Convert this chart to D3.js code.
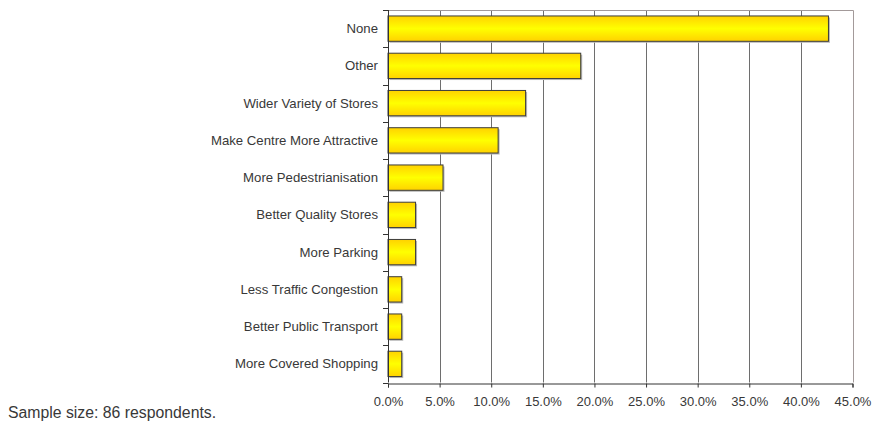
<!DOCTYPE html>
<html>
<head>
<meta charset="utf-8">
<script src="https://cdn.jsdelivr.net/npm/d3@7"></script>
<style>
  html, body { margin: 0; padding: 0; background: #fff; }
  svg { display: block; }
  text { font-family: "Liberation Sans", Arial, Helvetica, sans-serif; fill: #383838; }
</style>
</head>
<body>
<svg id="chart" width="872" height="423"></svg>
<script>
// Improvements wanted in the town centre (share of responses)
const categories = [
  "None",
  "Other",
  "Wider Variety of Stores",
  "Make Centre More Attractive",
  "More Pedestrianisation",
  "Better Quality Stores",
  "More Parking",
  "Less Traffic Congestion",
  "Better Public Transport",
  "More Covered Shopping"
];
const shares = [42.67, 18.67, 13.33, 10.67, 5.33, 2.67, 2.67, 1.33, 1.33, 1.33];
const xTicks = [0, 5, 10, 15, 20, 25, 30, 35, 40, 45];
const note = "Sample size: 86 respondents.";

const svg = d3.select("#chart");
const plot = { left: 388, right: 852.5, top: 10, bottom: 382.5 };

const x = d3.scaleLinear().domain([0, 45]).range([plot.left, plot.right]);
const y = d3.scaleBand()
  .domain(categories)
  .range([plot.top, plot.bottom])
  .paddingInner(0.32)
  .paddingOuter(0.16);

// Bar fill: gold at the edges, bright yellow in the middle
const defs = svg.append("defs");
const grad = defs.append("linearGradient")
  .attr("id", "barFill").attr("x1", 0).attr("y1", 0).attr("x2", 0).attr("y2", 1);
grad.append("stop").attr("offset", "0%").attr("stop-color", "#ffd200");
grad.append("stop").attr("offset", "50%").attr("stop-color", "#ffff00");
grad.append("stop").attr("offset", "100%").attr("stop-color", "#ffd200");

// Vertical gridlines
svg.append("g")
  .selectAll("line")
  .data(xTicks.slice(1, -1))
  .join("line")
  .attr("x1", d => Math.round(x(d)) + 0.5)
  .attr("x2", d => Math.round(x(d)) + 0.5)
  .attr("y1", plot.top)
  .attr("y2", plot.bottom)
  .attr("stroke", "#6e6e6e")
  .attr("stroke-width", 1);

// Plot frame (top and right)
svg.append("path")
  .attr("d", `M${plot.left},${plot.top + 0.5}H${Math.round(plot.right) + 0.5}V${plot.bottom}`)
  .attr("fill", "none")
  .attr("stroke", "#a39a9a")
  .attr("stroke-width", 1);

// Bar shadows
svg.append("g")
  .selectAll("rect")
  .data(categories)
  .join("rect")
  .attr("x", x(0) + 1.5)
  .attr("y", d => y(d) + 1.5)
  .attr("width", (d, i) => x(shares[i]) - x(0))
  .attr("height", y.bandwidth())
  .attr("fill", "#b8b8b8");

// Bars
svg.append("g")
  .selectAll("rect")
  .data(categories)
  .join("rect")
  .attr("x", x(0))
  .attr("y", d => y(d))
  .attr("width", (d, i) => x(shares[i]) - x(0))
  .attr("height", y.bandwidth())
  .attr("fill", "url(#barFill)")
  .attr("stroke", "#3c3c3c")
  .attr("stroke-width", 1);

// Category axis with ticks between bands
const yAxis = svg.append("g").attr("transform", `translate(${plot.left},0)`);
yAxis.append("line")
  .attr("x1", 0.5).attr("x2", 0.5)
  .attr("y1", plot.top).attr("y2", plot.bottom)
  .attr("stroke", "#333");
const bounds = categories.map(c => y(c) - y.step() * y.paddingInner() / 2)
  .concat([plot.bottom]);
bounds[0] = plot.top;
yAxis.selectAll("line.tick")
  .data(bounds)
  .join("line")
  .attr("class", "tick")
  .attr("x1", -5).attr("x2", 0.5)
  .attr("y1", d => Math.round(d) + 0.5)
  .attr("y2", d => Math.round(d) + 0.5)
  .attr("stroke", "#333");
yAxis.selectAll("text")
  .data(categories)
  .join("text")
  .attr("x", -10)
  .attr("y", d => y(d) + y.bandwidth() / 2)
  .attr("dy", "0.35em")
  .attr("text-anchor", "end")
  .attr("font-size", 13.2)
  .text(d => d);

// Value axis
const xAxis = d3.axisBottom(x)
  .tickValues(xTicks)
  .tickSize(4)
  .tickPadding(9)
  .tickFormat(d => d.toFixed(1) + "%");
const gx = svg.append("g")
  .attr("transform", `translate(0,${Math.round(plot.bottom) + 0.5})`)
  .call(xAxis);
gx.select(".domain").attr("stroke", "#333");
gx.selectAll(".tick line").attr("stroke", "#333");
gx.selectAll(".tick text")
  .attr("font-size", 13)
  .attr("font-family", "Liberation Sans, Arial, sans-serif")
  .attr("fill", "#383838");

// Footnote
svg.append("text")
  .attr("x", 8)
  .attr("y", 418)
  .attr("font-size", 15.8)
  .text(note);
</script>
</body>
</html>
